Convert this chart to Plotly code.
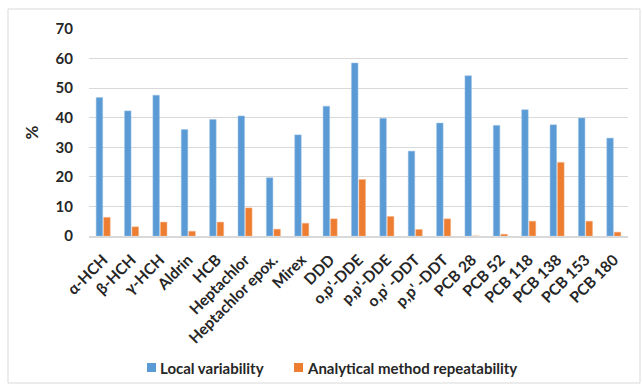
import plotly.graph_objects as go

categories = ["α-HCH", "β-HCH", "γ-HCH", "Aldrin", "HCB", "Heptachlor", "Heptachlor epox.",
              "Mirex", "DDD", "o,p'-DDE", "p,p'-DDE", "o,p' -DDT", "p,p' -DDT", "PCB 28",
              "PCB 52", "PCB 118", "PCB 138", "PCB 153", "PCB 180"]
local_var = [46.8, 42.3, 47.6, 36.0, 39.4, 40.6, 19.7, 34.2, 43.9, 58.5, 39.8, 28.7, 38.2,
             54.2, 37.4, 42.7, 37.6, 39.9, 33.1]
method_rep = [6.3, 3.1, 4.7, 1.6, 4.7, 9.5, 2.3, 4.3, 5.8, 19.1, 6.6, 2.2, 5.8,
              0.0, 0.6, 5.0, 24.9, 5.0, 1.3]
y_ticks = [0, 10, 20, 30, 40, 50, 60, 70]
series_names = ["Local variability", "Analytical method repeatability"]
series_colors = ["#5b9bd5", "#ed7d31"]

W, H = 642, 387
L, R, T, B = 89, 14, 29, 151
pw, ph = W - L - R, H - T - B

def px_x(p):
    return (p - L) / pw

def px_y(p):
    return (H - B - p) / ph

font_family = "Lato, Carlito, 'Open Sans', sans-serif"
txt_color = "#262626"

fig = go.Figure()
fig.add_trace(go.Bar(x=categories, y=local_var, name=series_names[0],
                     marker=dict(color=series_colors[0], line=dict(color="#9dc3e6", width=0.5))))
fig.add_trace(go.Bar(x=categories, y=method_rep, name=series_names[1],
                     marker=dict(color=series_colors[1], line=dict(color="#f4b183", width=0.5))))

# manual legend (small squares + bold text)
shapes = [dict(type="rect", xref="paper", yref="paper",
               x0=px_x(8), x1=px_x(640), y0=px_y(383), y1=px_y(9),
               line=dict(color="#d9d9d9", width=1), fillcolor="rgba(0,0,0,0)", layer="below")]
annotations = []
leg_x = [147, 294]
for name, col, x0 in zip(series_names, series_colors, leg_x):
    shapes.append(dict(type="rect", xref="paper", yref="paper",
                       x0=px_x(x0), x1=px_x(x0 + 9), y0=px_y(372), y1=px_y(363),
                       line=dict(width=0), fillcolor=col))
    annotations.append(dict(xref="paper", yref="paper", x=px_x(x0 + 11), y=px_y(367.5),
                            xanchor="left", yanchor="middle", showarrow=False, text=name,
                            font=dict(size=15, family=font_family, weight="bold", color=txt_color)))

fig.update_layout(
    width=W, height=H,
    margin=dict(l=L, r=R, t=T, b=B),
    paper_bgcolor="white", plot_bgcolor="white",
    barmode="group", bargap=0.47, bargroupgap=0.13,
    font=dict(family=font_family, color=txt_color),
    showlegend=False,
    xaxis=dict(tickangle=-45, automargin=False,
               tickfont=dict(size=15.5, family=font_family, weight="bold", color=txt_color),
               showline=True, linecolor="#d9d9d9", linewidth=1.5, ticks="outside", ticklen=7,
               tickcolor="rgba(0,0,0,0)", showgrid=False),
    yaxis=dict(range=[0, 70], tickvals=y_ticks, showgrid=True, gridcolor="#d9d9d9", gridwidth=1,
               automargin=False,
               tickfont=dict(size=15, family=font_family, weight="bold", color=txt_color),
               zeroline=False, showline=False, ticks="outside", ticklen=12, tickcolor="rgba(0,0,0,0)",
               title=dict(text="%", font=dict(size=17, family=font_family, weight="bold", color=txt_color),
                          standoff=12)),
    shapes=shapes,
    annotations=annotations,
)

fig.write_html("out.html")
